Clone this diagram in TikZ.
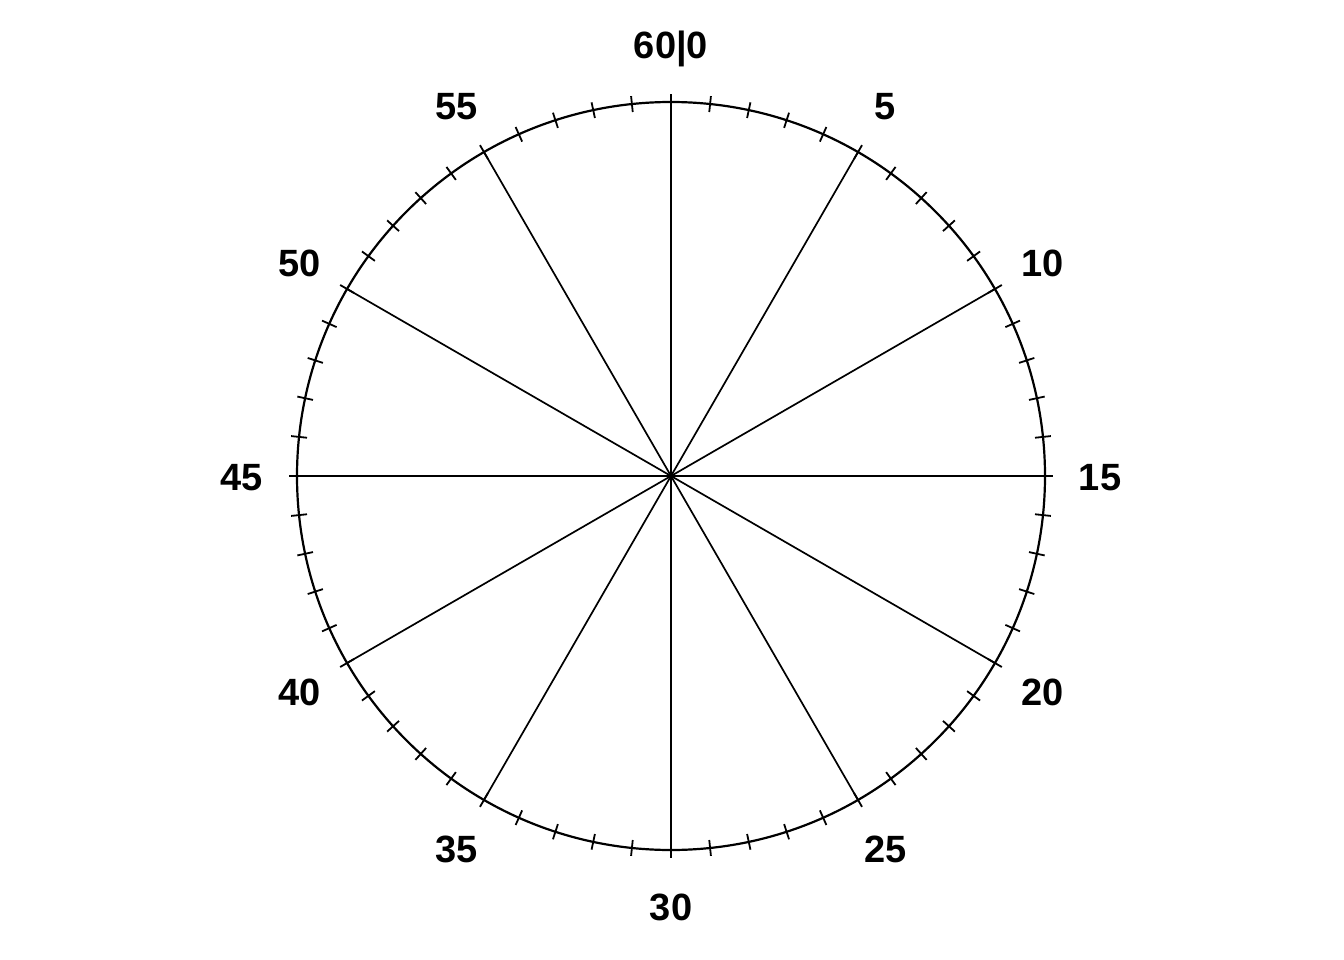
\documentclass[tikz,border=0pt]{standalone}
\usepackage{fontspec}
\setmainfont{Liberation Sans}
\usetikzlibrary{calc}
\begin{document}
\begin{tikzpicture}[x=1pt,y=-1pt,
  lbl/.style={font=\fontsize{38}{42}\selectfont\bfseries, inner sep=0pt, yshift=-2pt},
  spoke/.style={line width=1.7pt},
  tickmark/.style={line width=1.8pt},
  rim/.style={line width=2.2pt}]
\useasboundingbox (0,0) rectangle (1344,960);
\coordinate (c) at (671,476);
\draw[rim] (c) circle[radius=374];
\foreach \i in {0,...,59}{
  \pgfmathsetmacro{\a}{-90+6*\i}
  \draw[tickmark] ($(c)+(\a:366)$) -- ($(c)+(\a:382)$);
}
\foreach \i in {0,...,11}{
  \pgfmathsetmacro{\a}{-90+30*\i}
  \coordinate (e\i) at ($(c)+(\a:374)$);
  \draw[spoke] (c) -- (e\i);
}
\foreach \i/\t in {0/60|0,1/5,2/10,3/15,4/20,5/25,6/30,7/35,8/40,9/45,10/50,11/55}{
  \pgfmathsetmacro{\a}{-90+30*\i}
  \node[lbl] (l\i) at ($(c)+(\a:429)$) {\t};
}
\end{tikzpicture}
\end{document}
